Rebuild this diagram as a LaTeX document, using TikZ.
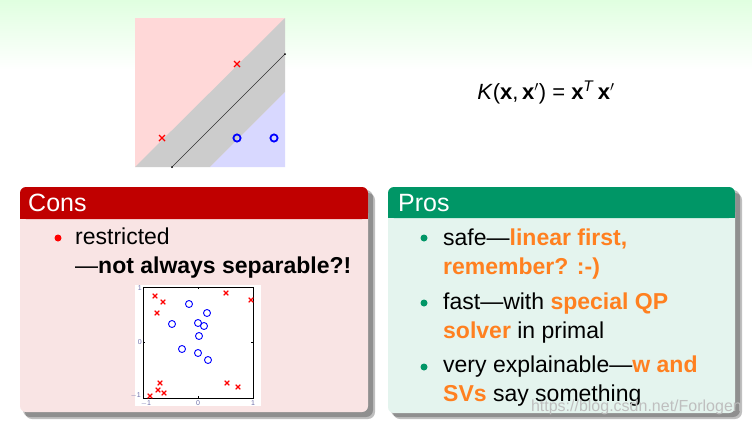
\documentclass[tikz,border=0pt]{standalone}
\usepackage{fontspec}
\setmainfont{Liberation Sans}
\definecolor{slidegreen}{RGB}{224,255,224}
\definecolor{consred}{RGB}{192,0,0}
\definecolor{consbg}{RGB}{249,228,228}
\definecolor{prosgreen}{RGB}{0,150,102}
\definecolor{prosbg}{RGB}{228,244,238}
\definecolor{hiorange}{RGB}{255,128,32}
\definecolor{zonepink}{RGB}{255,216,216}
\definecolor{zoneblue}{RGB}{216,216,255}
\definecolor{zonegray}{RGB}{204,204,204}
\definecolor{ticklbl}{RGB}{110,110,170}
\newcommand{\orng}[1]{\textcolor{hiorange}{\textbf{#1}}}
\tikzset{
  body/.style={font=\fontsize{23}{28}\selectfont, anchor=base west, inner sep=0pt},
  blocktitle/.style={font=\fontsize{25}{30}\selectfont, text=white,
    anchor=base west, inner sep=0pt},
  ticktext/.style={font=\fontsize{7}{8}\selectfont, text=ticklbl, inner sep=0pt},
  shadowbox/.style={fill=black, opacity=.25, rounded corners=7pt}
}

\begin{document}
\begin{tikzpicture}[x=1pt, y=-1pt]
  \useasboundingbox (0,0) rectangle (752,424);
  \fill[white] (0,0) rectangle (752,424);
  \shade[top color=slidegreen, bottom color=white] (0,0) rectangle (752,70);

  % linear separator
  \fill[zonepink] (135,18) rectangle (285,167);
  \fill[zonegray] (135,167) -- (285,18) -- (285,92) -- (210,167) -- cycle;
  \fill[zoneblue] (210,167) -- (285,92) -- (285,167) -- cycle;
  \coordinate (hl) at (172,167);
  \coordinate (hr) at (285,54);
  \draw[line width=.5pt, black!80] (hl) -- (hr);
  \fill (hl) circle (1pt) (hr) circle (1pt);
  \foreach \x/\y in {237/64, 162/138}
    \draw[red, line width=1.4pt] (\x-3,\y-3) -- ++(6,6) (\x-3,\y+3) -- ++(6,-6);
  \foreach \x/\y in {237/138, 274/138}
    \draw[blue, line width=1.8pt] (\x,\y) circle (3.6pt);

  \node (kernel) [anchor=base, inner sep=0pt, font=\fontsize{22}{26}\selectfont]
    at (546,99) {\textit{K}(\textbf{x},\,\textbf{x}$'$)\;=\;\textbf{x}\textsuperscript{\textit{T}}\,\textbf{x}$'$};

  % cons block
  \fill[shadowbox] (25,193) rectangle (375,419);
  \fill[shadowbox] (23,190) rectangle (373,417);
  \fill[consbg, rounded corners=6pt] (20,187) rectangle (368,412);
  \fill[consred, rounded corners=6pt] (20,187) rectangle (368,219);
  \fill[consred] (20,205) rectangle (368,219);
  \node (constitle) [blocktitle] at (28,211) {Cons};
  \fill[red] (58,238) circle (3.5pt);
  \node (cons1) [body] at (75,244) {restricted};
  \node (cons2) [body] at (75,273) {—\textbf{not always separable?!}};

  % data that is not linearly separable
  \fill[white] (135,285) rectangle (261,406);
  \draw[line width=.8pt] (143,287) rectangle (253,398);
  \draw[line width=.5pt] (143,342.5) -- ++(2,0) (253,342.5) -- ++(-2,0)
    (198,287) -- ++(0,2) (198,398) -- ++(0,-2);
  \node (ty1) [ticktext, anchor=east] at (142,288) {1};
  \node (ty0) [ticktext, anchor=east] at (142,342.5) {0};
  \node (tym) [ticktext, anchor=east] at (141,395) {$-$1};
  \node (txm) [ticktext, anchor=north] at (146,400.5) {$-$1};
  \node (tx0) [ticktext, anchor=north] at (198,400.5) {0};
  \node (tx1) [ticktext, anchor=north] at (253,400.5) {1};
  \foreach \x/\y in {155/296, 163/302, 157/313, 226/293, 251/300, 160/383,
      158/390, 164/393, 150/396, 227/383, 238/387}
    \draw[red, line width=1.1pt] (\x-2.3,\y-2.3) -- ++(4.6,4.6) (\x-2.3,\y+2.3) -- ++(4.6,-4.6);
  \foreach \x/\y in {189/304, 207/313, 172/324, 198/323, 204/326, 199/336,
      182/349, 198/353, 208/360}
    \draw[blue, line width=.9pt] (\x,\y) circle (3.5pt);

  % pros block
  \fill[shadowbox] (393,193) rectangle (742,419);
  \fill[shadowbox] (391,190) rectangle (740,417);
  \fill[prosbg, rounded corners=6pt] (388,187) rectangle (735,413);
  \fill[prosgreen, rounded corners=6pt] (388,187) rectangle (735,218);
  \fill[prosgreen] (388,205) rectangle (735,218);
  \node (prostitle) [blocktitle] at (398,211) {Pros};
  \foreach \y in {238, 303, 367}
    \fill[prosgreen] (424,\y) circle (3.5pt);
  \node (pros1) [body] at (443,245) {safe—\orng{linear first,}};
  \node (pros1b) [body] at (443,274) {\orng{remember? :-)}};
  \node (pros2) [body] at (443,309) {fast—with \orng{special QP}};
  \node (pros2b) [body] at (443,338) {\orng{solver} in primal};
  \node (pros3) [body] at (443,372) {very explainable—\orng{w and}};
  \node (pros3b) [body] at (443,401) {\orng{SVs} say something};

  \node (mark) [anchor=base east, inner sep=0pt, text=black!25,
    font=\fontsize{16}{18}\selectfont] at (742,411) {https://blog.csdn.net/Forlogen};
\end{tikzpicture}
\end{document}
